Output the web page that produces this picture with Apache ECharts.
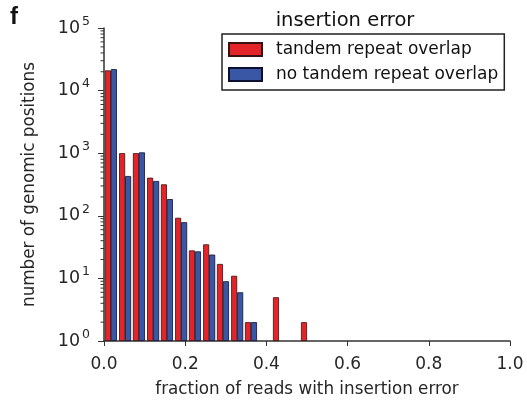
<!DOCTYPE html>
<html>
<head>
<meta charset="utf-8">
<script src="https://cdn.jsdelivr.net/npm/echarts@6/dist/echarts.min.js"></script>
<style>html,body{margin:0;padding:0;background:#fff}#c{width:527px;height:406px}</style>
</head>
<body>
<div id="c"></div>
<script>
// bin centres (fraction of reads with insertion error), bin width ~1/29
const binCenters = [0.017, 0.052, 0.086, 0.121, 0.155, 0.190, 0.224, 0.259, 0.293, 0.328, 0.362, 0.397, 0.431, 0.466, 0.500];
// counts (null = empty bin)
const tandemRepeat   = [21000, 1000, 1000, 406, 318, 93, 28, 35, 17, 11, 2, null, 5, null, 2];
const noTandemRepeat = [22000, 432, 1030, 360, 185, 79, 27, 24, 9, 6, 2, null, null, null, null];
const xTicks = [0, 0.2, 0.4, 0.6, 0.8, 1.0];
const yDecades = [1, 10, 100, 1000, 10000, 100000];
const seriesNames = ['tandem repeat overlap', 'no tandem repeat overlap'];

const minorTickValues = [];
for (let d = 0; d < yDecades.length - 1; d++) {
  for (let m = 2; m <= 9; m++) minorTickValues.push(yDecades[d] * m);
}

function pairs(vals) {
  return binCenters.map((x, i) => vals[i] == null ? null : [x, vals[i]]).filter(p => p);
}

const chart = echarts.init(document.getElementById('c'), null, {renderer: 'canvas'});
const txt = '#262626';
chart.setOption({
  animation: false,
  textStyle: {fontFamily: 'DejaVu Sans'},
  graphic: [{
    type: 'text', left: 10, top: 5,
    style: {text: 'f', font: 'bold 24px Liberation Sans', fill: '#111'}
  }],
  title: {
    text: 'insertion error', left: 340, top: 6, textAlign: 'center',
    textStyle: {fontFamily: 'DejaVu Sans', fontSize: 19.5, fontWeight: 'normal', color: '#111'}
  },
  legend: {
    data: seriesNames,
    icon: 'rect',
    orient: 'vertical', left: 222, top: 34,
    borderColor: '#222', borderWidth: 1.5, borderRadius: 0,
    padding: [7, 6, 7, 6],
    itemWidth: 33, itemHeight: 13, itemGap: 8,
    textStyle: {fontFamily: 'DejaVu Sans', fontSize: 17, color: '#111', padding: [0, 0, 0, 9]},
    selectedMode: false
  },
  grid: {left: 104, right: 17, top: 28, bottom: 65, containLabel: false},
  xAxis: {
    type: 'value', min: 0, max: 1, interval: 0.2,
    name: 'fraction of reads with insertion error',
    nameLocation: 'middle', nameGap: 40,
    nameTextStyle: {fontFamily: 'DejaVu Sans', fontSize: 16.8, color: txt},
    axisLine: {lineStyle: {color: '#333', width: 1.5}},
    axisTick: {show: true, inside: false, length: 5, lineStyle: {color: '#333', width: 1}},
    axisLabel: {fontSize: 17, color: txt, margin: 15, formatter: v => v.toFixed(1), fontFamily: 'DejaVu Sans'},
    splitLine: {show: false}
  },
  yAxis: {
    type: 'log', logBase: 10, min: 1, max: 100000,
    name: 'number of genomic positions',
    nameLocation: 'middle', nameGap: 66,
    nameTextStyle: {fontFamily: 'DejaVu Sans', fontSize: 16.8, color: txt},
    axisLine: {show: true, lineStyle: {color: '#333', width: 1.5}},
    axisTick: {show: true, inside: false, length: 6, lineStyle: {color: '#333', width: 1}},
    axisLabel: {
      color: txt, margin: 14,
      formatter: v => '{b|10}{s|' + Math.round(Math.log10(v)) + '}',
      rich: {
        b: {fontSize: 17.5, fontFamily: 'DejaVu Sans', color: txt},
        s: {fontSize: 12.5, fontFamily: 'DejaVu Sans', color: txt, padding: [0, 0, 13, 2]}
      }
    },
    splitLine: {show: false}
  },
  series: [
    {
      name: seriesNames[0], type: 'bar', data: pairs(tandemRepeat),
      barWidth: 6, barGap: '0%',
      itemStyle: {color: '#e5242a', borderColor: '#3a1010', borderWidth: 0.8}
    },
    {
      name: seriesNames[1], type: 'bar', data: pairs(noTandemRepeat),
      barWidth: 6, barGap: '0%',
      itemStyle: {color: '#3a57a6', borderColor: '#0c1030', borderWidth: 0.8}
    },
    {
      name: 'minorTicks', type: 'custom', clip: false, silent: true,
      data: minorTickValues.map(v => [0, v]),
      renderItem: (params, api) => {
        const p = api.coord([0, api.value(1)]);
        return {type: 'line', shape: {x1: p[0] - 3.5, y1: p[1], x2: p[0], y2: p[1]},
                style: {stroke: '#333', lineWidth: 1}};
      }
    }
  ]
});
</script>
</body>
</html>
